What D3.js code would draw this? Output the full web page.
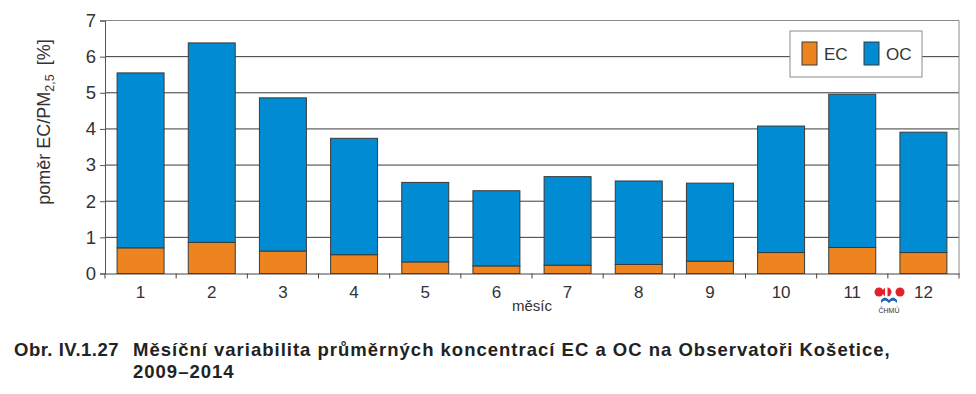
<!DOCTYPE html>
<html>
<head>
<meta charset="utf-8">
<script src="https://cdn.jsdelivr.net/npm/d3@7"></script>
<style>
  body { margin: 0; background: #fff; }
  text { font-family: "Liberation Sans", Arial, sans-serif; }
</style>
</head>
<body>
<div id="chart"></div>
<script>
const months = ["1", "2", "3", "4", "5", "6", "7", "8", "9", "10", "11", "12"];
const ecValues = [0.71, 0.86, 0.62, 0.52, 0.32, 0.21, 0.23, 0.25, 0.34, 0.58, 0.72, 0.58];
const ocValues = [4.84, 5.52, 4.24, 3.22, 2.20, 2.08, 2.45, 2.31, 2.16, 3.50, 4.24, 3.33];
const yTicks = [0, 1, 2, 3, 4, 5, 6, 7];
const seriesNames = ["EC", "OC"];
const seriesColors = ["#ee8420", "#008bd2"];

const width = 976, height = 394;
const margin = { top: 20.5, right: 17, bottom: 120.5, left: 105 };
const plotWidth = width - margin.left - margin.right;
const plotHeight = height - margin.top - margin.bottom;

const data = months.map((m, i) => ({ month: m, EC: ecValues[i], OC: ocValues[i] }));
const stacked = d3.stack().keys(seriesNames)(data);

const xScale = d3.scaleBand()
  .domain(months)
  .range([0, plotWidth])
  .paddingInner(0.34)
  .paddingOuter(0.17);

const yScale = d3.scaleLinear()
  .domain([0, 7])
  .range([plotHeight, 0]);

const svg = d3.select("#chart")
  .append("svg")
  .attr("width", width)
  .attr("height", height);

const g = svg.append("g")
  .attr("transform", `translate(${margin.left}, ${margin.top})`);

// grid lines
g.selectAll(".grid")
  .data(yTicks.slice(1))
  .enter()
  .append("line")
  .attr("class", "grid")
  .attr("x1", 0)
  .attr("x2", plotWidth)
  .attr("y1", d => yScale(d))
  .attr("y2", d => yScale(d))
  .attr("stroke", d => d === 7 ? "#8a8a8a" : "#3a3a3a")
  .attr("stroke-width", 1);

// right border
g.append("line")
  .attr("x1", plotWidth).attr("x2", plotWidth)
  .attr("y1", 0).attr("y2", plotHeight)
  .attr("stroke", "#8a8a8a");

// bars
g.selectAll(".series")
  .data(stacked)
  .enter()
  .append("g")
  .attr("fill", (d, i) => seriesColors[i])
  .selectAll("rect")
  .data(d => d)
  .enter()
  .append("rect")
  .attr("x", d => xScale(d.data.month))
  .attr("width", xScale.bandwidth())
  .attr("y", d => yScale(d[1]))
  .attr("height", d => yScale(d[0]) - yScale(d[1]))
  .attr("stroke", "#3a3a3a")
  .attr("stroke-width", 1);

// axes
const yAxis = d3.axisLeft(yScale).tickValues(yTicks).tickSize(5).tickPadding(4).tickFormat(d3.format("d"));
const yG = g.append("g").call(yAxis);
yG.selectAll("text").attr("font-size", "18.5px").attr("fill", "#333");
yG.selectAll("line, path").attr("stroke", "#555");

const xAxis = d3.axisBottom(xScale).tickSize(0).tickPadding(12);
const xG = g.append("g")
  .attr("transform", `translate(0, ${plotHeight})`)
  .call(xAxis);
xG.select("path").attr("stroke", "#444");
xG.selectAll("text").attr("font-size", "17px").attr("fill", "#333");

// ticks between categories
const step = xScale.step();
g.selectAll(".xtick")
  .data(d3.range(months.length + 1))
  .enter()
  .append("line")
  .attr("x1", i => i * step)
  .attr("x2", i => i * step)
  .attr("y1", plotHeight)
  .attr("y2", plotHeight + 5)
  .attr("stroke", "#444");

// axis titles
g.append("text")
  .attr("x", plotWidth / 2)
  .attr("y", plotHeight + 37)
  .attr("text-anchor", "middle")
  .attr("font-size", "15px")
  .attr("fill", "#333")
  .text("měsíc");

const yTitle = svg.append("text")
  .attr("transform", "translate(50, 122) rotate(-90)")
  .attr("text-anchor", "middle")
  .attr("font-size", "18px")
  .attr("fill", "#333")
  .attr("xml:space", "preserve");
yTitle.append("tspan").text("poměr EC/PM");
yTitle.append("tspan").attr("font-size", "12.5px").attr("dy", 4).text("2,5");
yTitle.append("tspan").attr("dy", -4).attr("dx", 4).text(" [%]");

// legend
const legend = svg.append("g").attr("transform", "translate(790, 31)");
legend.append("rect")
  .attr("width", 132).attr("height", 46)
  .attr("fill", "#fff").attr("stroke", "#8a8a8a");
seriesNames.forEach((name, i) => {
  const lg = legend.append("g").attr("transform", `translate(${12 + i * 62}, 11)`);
  lg.append("rect").attr("width", 15).attr("height", 23)
    .attr("fill", seriesColors[i]).attr("stroke", "#3a3a3a");
  lg.append("text").attr("x", 22).attr("y", 18)
    .attr("font-size", "17px").attr("fill", "#333").text(name);
});

// CHMU logo
const logo = svg.append("g").attr("transform", "translate(889, 292)");
logo.append("circle").attr("cx", -10).attr("cy", 0).attr("r", 4.5).attr("fill", "#e3202a");
logo.append("circle").attr("cx", -2).attr("cy", 0).attr("r", 4.5).attr("fill", "#e3202a");
logo.append("rect").attr("x", -4).attr("y", -6).attr("width", 2.5).attr("height", 12).attr("fill", "#fff");
logo.append("circle").attr("cx", 11).attr("cy", 0).attr("r", 4.5).attr("fill", "#e3202a");
logo.append("path")
  .attr("d", "M-8,8 Q-4,3 0,8 Q4,3 8,8 L8,11 Q4,6 0,11 Q-4,6 -8,11 Z")
  .attr("fill", "#1a66b3");
logo.append("text").attr("x", 0).attr("y", 21)
  .attr("text-anchor", "middle").attr("font-size", "7px").attr("fill", "#333").text("ČHMÚ");

// caption
const caption = svg.append("g").attr("fill", "#222").attr("font-weight", "bold")
  .attr("font-size", "18.5px").attr("letter-spacing", "1px");
caption.append("text").attr("x", 14).attr("y", 356).attr("letter-spacing", "0.5px").text("Obr. IV.1.27");
caption.append("text").attr("x", 133).attr("y", 356)
  .text("Měsíční variabilita průměrných koncentrací EC a OC na Observatoři Košetice,");
caption.append("text").attr("x", 133).attr("y", 378).text("2009–2014");
</script>
</body>
</html>
